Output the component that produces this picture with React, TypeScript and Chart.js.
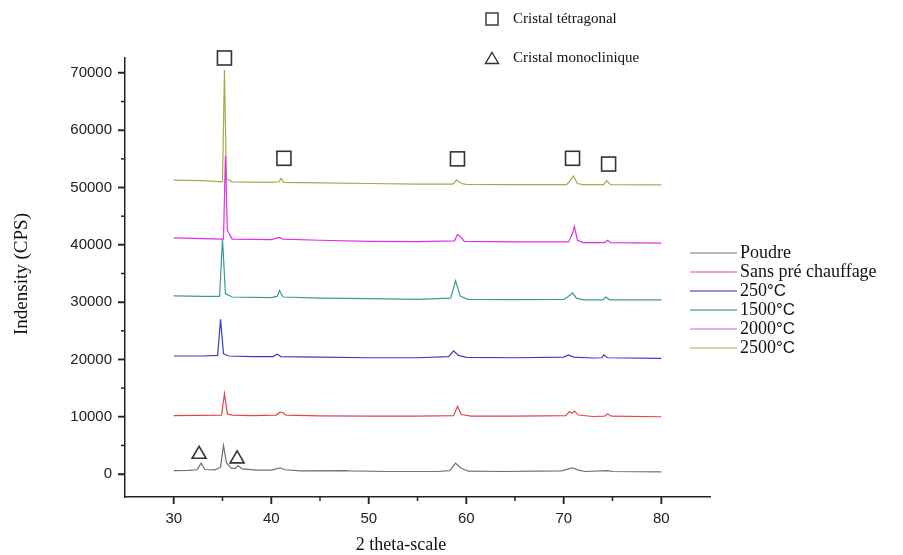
import React, { useEffect, useRef } from 'react';
import { Chart, registerables } from 'chart.js';

Chart.register(...registerables);

// ---------- data ----------
const seriesNames = ['Poudre', 'Sans pré chauffage', '250°C', '1500°C', '2000°C', '2500°C'];
const lineColors = ['#707070', '#e04848', '#3a3ac8', '#3a9898', '#e030e0', '#a8a848'];
const legendColors = ['#a0a0a0', '#e89090', '#7070d0', '#70a8a8', '#e890e8', '#c8c890'];

const poudreX = [30, 31.5, 32.4, 32.8, 33.2, 34.2, 34.8, 35.1, 35.4, 35.9, 36.3, 36.6, 37.0, 38.5, 40.0, 40.5, 40.9, 41.4, 43, 47.5, 48, 52, 57, 58.3, 58.9, 59.4, 60.2, 64, 67, 69.8, 70.5, 70.9, 71.5, 72.2, 74.5, 75, 80];
const poudreY = [600, 650, 750, 1900, 800, 750, 1200, 5000, 2000, 1000, 1000, 1500, 900, 700, 700, 900, 1100, 750, 550, 600, 550, 450, 450, 600, 1900, 1100, 500, 450, 500, 550, 900, 1100, 700, 450, 600, 450, 400];

const sansX = [30, 34.9, 35.2, 35.5, 36, 38, 40.5, 40.9, 41.2, 41.5, 45, 50, 55, 58.7, 59.1, 59.5, 60.5, 65, 70.2, 70.6, 70.85, 71.1, 71.5, 73, 74.2, 74.5, 74.9, 80];
const sansY = [10200, 10300, 14000, 10500, 10300, 10200, 10300, 10800, 10700, 10300, 10150, 10100, 10100, 10200, 11800, 10400, 10100, 10100, 10200, 10900, 10600, 11000, 10300, 10050, 10100, 10500, 10100, 10000];

const c250X = [30, 33, 34.5, 34.8, 35.1, 35.6, 38, 40.2, 40.6, 41.0, 45, 50, 55, 58.2, 58.7, 59.2, 60, 65, 70.0, 70.5, 71.0, 73, 73.9, 74.1, 74.5, 80];
const c250Y = [20600, 20600, 20700, 27000, 21000, 20600, 20500, 20500, 20900, 20500, 20400, 20300, 20300, 20500, 21500, 20700, 20350, 20300, 20400, 20800, 20400, 20250, 20300, 20800, 20300, 20200];

const c1500X = [30, 33, 34.7, 35.0, 35.3, 36, 40, 40.6, 40.85, 41.2, 45, 50, 55, 58.4, 58.9, 59.4, 60.2, 65, 70.0, 70.4, 70.9, 71.3, 72, 74.0, 74.3, 74.7, 80];
const c1500Y = [31100, 31000, 31000, 41000, 31500, 30900, 30800, 31000, 32000, 30900, 30700, 30600, 30500, 30700, 33700, 31000, 30500, 30450, 30500, 30900, 31600, 30700, 30400, 30400, 30900, 30400, 30400];

const c2000X = [30, 33, 35.1, 35.3, 35.5, 36, 40, 40.8, 41.2, 45, 50, 55, 58.8, 59.1, 59.4, 59.8, 65, 70.5, 70.9, 71.1, 71.4, 72, 74.2, 74.5, 74.8, 80];
const c2000Y = [41200, 41100, 41000, 55500, 42500, 41000, 40900, 41300, 41000, 40800, 40600, 40550, 40700, 41800, 41400, 40600, 40500, 40500, 42000, 43200, 40800, 40400, 40400, 40800, 40400, 40300];

const c2500X = [30, 33, 35.0, 35.2, 35.4, 36, 40, 40.8, 41.0, 41.3, 45, 50, 55, 58.6, 59.0, 59.5, 60, 65, 70.3, 70.7, 71.0, 71.4, 72, 74.1, 74.4, 74.8, 80];
const c2500Y = [51300, 51200, 51000, 70500, 51500, 51000, 50900, 51000, 51600, 50900, 50800, 50700, 50600, 50600, 51300, 50700, 50550, 50500, 50500, 51300, 52000, 50700, 50500, 50500, 51200, 50500, 50450];

const seriesX = [poudreX, sansX, c250X, c1500X, c2000X, c2500X];
const seriesY = [poudreY, sansY, c250Y, c1500Y, c2000Y, c2500Y];

const xMajorTicks = [30, 40, 50, 60, 70, 80];
const yMajorTicks = [0, 10000, 20000, 30000, 40000, 50000, 60000, 70000];
const xMinorTicks = [35, 45, 55, 65, 75];
const yMinorTicks = [5000, 15000, 25000, 35000, 45000, 55000, 65000];

// marker annotations (2θ, intensity)
const squareX = [35.2, 41.3, 59.1, 70.9, 74.6];
const squareY = [72600, 55100, 55000, 55100, 54100];
const triangleX = [32.6, 36.5];
const triangleY = [3800, 3000];

const markerLegendLabels = ['Cristal tétragonal', 'Cristal monoclinique'];
const xTitle = '2 theta-scale';
const yTitle = 'Indensity (CPS)';

const SERIF = '"Liberation Serif", "Times New Roman", serif';
const SANS = '"Liberation Sans", Arial, sans-serif';

function drawSquare(ctx: CanvasRenderingContext2D, cx: number, cy: number, s: number) {
  ctx.strokeRect(cx - s / 2, cy - s / 2, s, s);
}
function drawTriangle(ctx: CanvasRenderingContext2D, cx: number, cy: number, w: number, h: number) {
  ctx.beginPath();
  ctx.moveTo(cx, cy - h / 2);
  ctx.lineTo(cx + w / 2, cy + h / 2);
  ctx.lineTo(cx - w / 2, cy + h / 2);
  ctx.closePath();
  ctx.stroke();
}

const decorPlugin = {
  id: 'decor',
  afterDraw(chart: any) {
    const ctx: CanvasRenderingContext2D = chart.ctx;
    const xs = chart.scales.x;
    const ys = chart.scales.y;
    const area = chart.chartArea;
    ctx.save();
    // major and minor ticks (outside)
    ctx.strokeStyle = '#222';
    ctx.lineWidth = 1.5;
    const xt = (v: number, len: number) => {
      const px = xs.getPixelForValue(v);
      ctx.beginPath();
      ctx.moveTo(px, area.bottom);
      ctx.lineTo(px, area.bottom + len);
      ctx.stroke();
    };
    const yt = (v: number, len: number) => {
      const py = ys.getPixelForValue(v);
      ctx.beginPath();
      ctx.moveTo(area.left, py);
      ctx.lineTo(area.left - len, py);
      ctx.stroke();
    };
    xMajorTicks.forEach((v) => xt(v, 7));
    xMinorTicks.forEach((v) => xt(v, 4));
    yMajorTicks.forEach((v) => yt(v, 7));
    yMinorTicks.forEach((v) => yt(v, 4));

    // peak markers
    ctx.strokeStyle = '#333';
    ctx.lineWidth = 1.6;
    squareX.forEach((v, i) => {
      drawSquare(ctx, xs.getPixelForValue(v), ys.getPixelForValue(squareY[i]), 14);
    });
    triangleX.forEach((v, i) => {
      drawTriangle(ctx, xs.getPixelForValue(v), ys.getPixelForValue(triangleY[i]), 14, 12);
    });

    // axis titles
    ctx.fillStyle = '#111';
    ctx.textAlign = 'center';
    ctx.textBaseline = 'middle';
    ctx.font = `18px ${SERIF}`;
    ctx.fillText(xTitle, 401, 545);
    ctx.save();
    ctx.translate(22, 274);
    ctx.rotate(-Math.PI / 2);
    ctx.font = `19px ${SERIF}`;
    ctx.fillText(yTitle, 0, 0);
    ctx.restore();

    // marker legend (top)
    ctx.textAlign = 'left';
    ctx.font = `15px ${SERIF}`;
    ctx.strokeStyle = '#333';
    ctx.lineWidth = 1.4;
    drawSquare(ctx, 492, 19, 12);
    ctx.fillText(markerLegendLabels[0], 513, 19);
    drawTriangle(ctx, 492, 58, 13, 11);
    ctx.fillText(markerLegendLabels[1], 513, 58);

    // series legend (right)
    const lx0 = 690, lx1 = 737, tx = 740;
    seriesNames.forEach((name, i) => {
      const y = 253 + i * 19;
      ctx.strokeStyle = legendColors[i];
      ctx.lineWidth = 1.5;
      ctx.beginPath();
      ctx.moveTo(lx0, y);
      ctx.lineTo(lx1, y);
      ctx.stroke();
      ctx.fillStyle = '#111';
      const m = name.match(/^(\d+)(°C)$/);
      if (m) {
        ctx.font = `18px ${SERIF}`;
        ctx.fillText(m[1], tx, y);
        const w = ctx.measureText(m[1]).width;
        ctx.font = `17px ${SANS}`;
        ctx.fillText(m[2], tx + w, y);
      } else {
        ctx.font = `18px ${SERIF}`;
        ctx.fillText(name, tx, y);
      }
    });
    ctx.restore();
  },
};

export default function App() {
  const ref = useRef<HTMLCanvasElement | null>(null);
  useEffect(() => {
    if (!ref.current) return;
    const datasets = seriesNames.map((name, i) => ({
      label: name,
      data: seriesX[i].map((x, j) => ({ x, y: seriesY[i][j] })),
      borderColor: lineColors[i],
      backgroundColor: lineColors[i],
      borderWidth: 1.2,
      pointRadius: 0,
      tension: 0,
      fill: false,
    }));
    const chart = new Chart(ref.current, {
      type: 'line',
      data: { datasets },
      options: {
        animation: false,
        responsive: false,
        devicePixelRatio: 1,
        layout: { padding: { left: 0, top: 58, right: 193, bottom: 0 } },
        plugins: { legend: { display: false }, tooltip: { enabled: false } },
        scales: {
          x: {
            type: 'linear',
            min: 25,
            max: 85,
            afterBuildTicks: (s: any) => { s.ticks = xMajorTicks.map((v) => ({ value: v })); },
            ticks: { color: '#222', font: { family: SANS, size: 15 }, padding: 6, maxRotation: 0, callback: (v: any) => String(v) },
            grid: { display: true, drawOnChartArea: false, drawTicks: true, tickLength: 7, tickColor: '#222', tickWidth: 1.5 },
            border: { display: true, color: '#222', width: 1.5 },
            afterFit: (s: any) => { s.height = 58; },
          },
          y: {
            type: 'linear',
            min: -4000,
            max: 72600,
            afterBuildTicks: (s: any) => { s.ticks = yMajorTicks.map((v) => ({ value: v })); },
            ticks: { color: '#222', font: { family: SANS, size: 15 }, padding: 6, callback: (v: any) => String(v) },
            grid: { display: true, drawOnChartArea: false, drawTicks: true, tickLength: 7, tickColor: '#222', tickWidth: 1.5 },
            border: { display: true, color: '#222', width: 1.5 },
            afterFit: (s: any) => { s.width = 125; },
          },
        },
      },
      plugins: [decorPlugin],
    });
    return () => chart.destroy();
  }, []);
  return (
    <div style={{ position: 'fixed', left: 0, top: 0, width: 903, height: 555, background: '#fff' }}>
      <canvas ref={ref} width={903} height={555} style={{ width: 903, height: 555, display: 'block' }} />
    </div>
  );
}
